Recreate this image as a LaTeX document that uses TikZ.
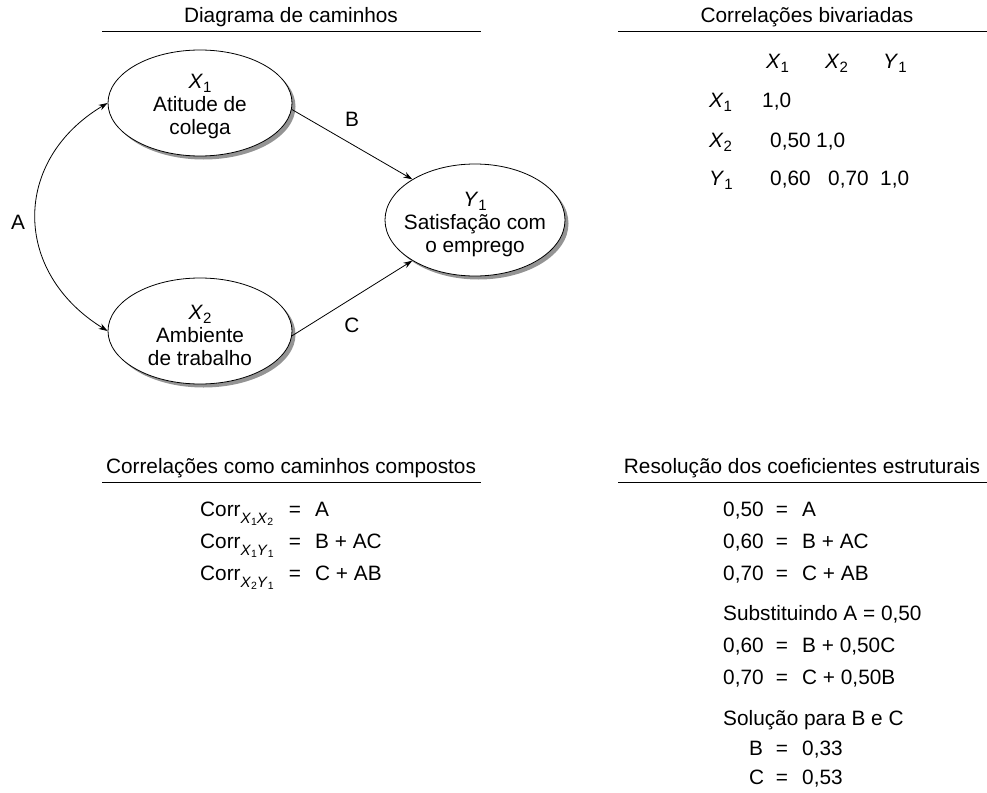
\documentclass[tikz,border=0pt]{standalone}
\usepackage{fontspec}
\setmainfont{Liberation Sans}
\usetikzlibrary{shapes.geometric,arrows.meta,shadows}
\newcommand{\myvar}[2]{\textit{#1}\raisebox{-4pt}{\fontsize{15}{15}\selectfont #2}}
\newcommand{\mysmallvar}[2]{{\fontsize{15}{15}\selectfont\textit{#1}\raisebox{-2.5pt}{\fontsize{10.5}{10.5}\selectfont #2}}}
\newcommand{\mycorr}[4]{Corr\raisebox{-7pt}{\mysmallvar{#1}{#2}\mysmallvar{#3}{#4}}}
\tikzset{
  latent/.style={ellipse, draw, line width=0.8pt, fill=white,
    drop shadow={shadow xshift=3.5pt, shadow yshift=-3.5pt, fill=black!42, opacity=1}},
  arr/.style={-{Stealth[length=9pt,width=6pt]}, line width=0.8pt},
  dblarr/.style={{Stealth[length=9pt,width=6pt]}-{Stealth[length=9pt,width=6pt]}, line width=0.8pt},
  rule/.style={line width=1pt},
  txt/.style={anchor=base west},
  ttl/.style={anchor=base}
}
\begin{document}
\begin{tikzpicture}[x=1pt, y=-1pt,
  every node/.style={font=\fontsize{20.8pt}{23pt}\selectfont, inner sep=0pt}]
\useasboundingbox (0,0) rectangle (987,792);

% ---------- Diagrama de caminhos ----------
\node[ttl] (t1) at (291,23) {Diagrama de caminhos};
\draw[rule] (102,32) -- (481,32);

\node[latent, minimum width=184pt, minimum height=106pt,
  label={[align=center,yshift=-4pt]center:{\myvar{X}{1}\\Atitude de\\colega}}] (x1) at (200,103) {};
\node[latent, minimum width=184pt, minimum height=106pt,
  label={[align=center,yshift=-4pt]center:{\myvar{X}{2}\\Ambiente\\de trabalho}}] (x2) at (200,331) {};
\node[latent, minimum width=180pt, minimum height=112pt,
  label={[align=center,yshift=-4pt]center:{\myvar{Y}{1}\\Satisfação com\\o emprego}}] (y1) at (475,220) {};

\draw[arr] (x1.-4) -- (y1.147);
\draw[arr] (x2.-3) -- (y1.213);
\draw[dblarr] (x1.west) .. controls (12,160) and (12,272) .. (x2.west);

\node (lA) at (18,222) {A};
\node (lB) at (352,119) {B};
\node (lC) at (352,325) {C};

% ---------- Correlações bivariadas ----------
\node[ttl] (t2) at (807,23) {Correlações bivariadas};
\draw[rule] (618,32) -- (987,32);

\node[txt] (h1) at (766,69) {\myvar{X}{1}};
\node[txt] (h2) at (825,69) {\myvar{X}{2}};
\node[txt] (h3) at (883,69) {\myvar{Y}{1}};

\node[txt] (r1) at (709,107) {\myvar{X}{1}};
\node[txt] (r2) at (709,147) {\myvar{X}{2}};
\node[txt] (r3) at (709,185) {\myvar{Y}{1}};

\node[txt] (v11) at (762,107) {1,0};
\node[txt] (v21) at (770,147) {0,50};
\node[txt] (v22) at (816,147) {1,0};
\node[txt] (v31) at (770,185) {0,60};
\node[txt] (v32) at (828,185) {0,70};
\node[txt] (v33) at (880,185) {1,0};

% ---------- Correlações como caminhos compostos ----------
\node[ttl] (t3) at (291,473) {Correlações como caminhos compostos};
\draw[rule] (102,482) -- (481,482);

\node[txt] (c1) at (200,516) {\mycorr{X}{1}{X}{2}};
\node[txt] (c2) at (200,548) {\mycorr{X}{1}{Y}{1}};
\node[txt] (c3) at (200,580) {\mycorr{X}{2}{Y}{1}};
\node[ttl] (ce1) at (295,516) {=};
\node[ttl] (ce2) at (295,548) {=};
\node[ttl] (ce3) at (295,580) {=};
\node[txt] (cr1) at (315,516) {A};
\node[txt] (cr2) at (315,548) {B + AC};
\node[txt] (cr3) at (315,580) {C + AB};

% ---------- Resolução dos coeficientes estruturais ----------
\node[ttl] (t4) at (802,473) {Resolução dos coeficientes estruturais};
\draw[rule] (618,482) -- (987,482);

\node[txt] (s1) at (723,516) {0,50};
\node[txt] (s2) at (723,548) {0,60};
\node[txt] (s3) at (723,580) {0,70};
\node[ttl] (se1) at (782,516) {=};
\node[ttl] (se2) at (782,548) {=};
\node[ttl] (se3) at (782,580) {=};
\node[txt] (sr1) at (802,516) {A};
\node[txt] (sr2) at (802,548) {B + AC};
\node[txt] (sr3) at (802,580) {C + AB};

\node[txt] (sub) at (723,620) {Substituindo A = 0,50};
\node[txt] (s4) at (723,652) {0,60};
\node[txt] (s5) at (723,684) {0,70};
\node[ttl] (se4) at (782,652) {=};
\node[ttl] (se5) at (782,684) {=};
\node[txt] (sr4) at (802,652) {B + 0,50C};
\node[txt] (sr5) at (802,684) {C + 0,50B};

\node[txt] (sol) at (723,725) {Solução para B e C};
\node[txt] (b) at (749,755) {B};
\node[txt] (c) at (749,784) {C};
\node[ttl] (se6) at (782,755) {=};
\node[ttl] (se7) at (782,784) {=};
\node[txt] (bv) at (802,755) {0,33};
\node[txt] (cv) at (802,784) {0,53};
\end{tikzpicture}
\end{document}
